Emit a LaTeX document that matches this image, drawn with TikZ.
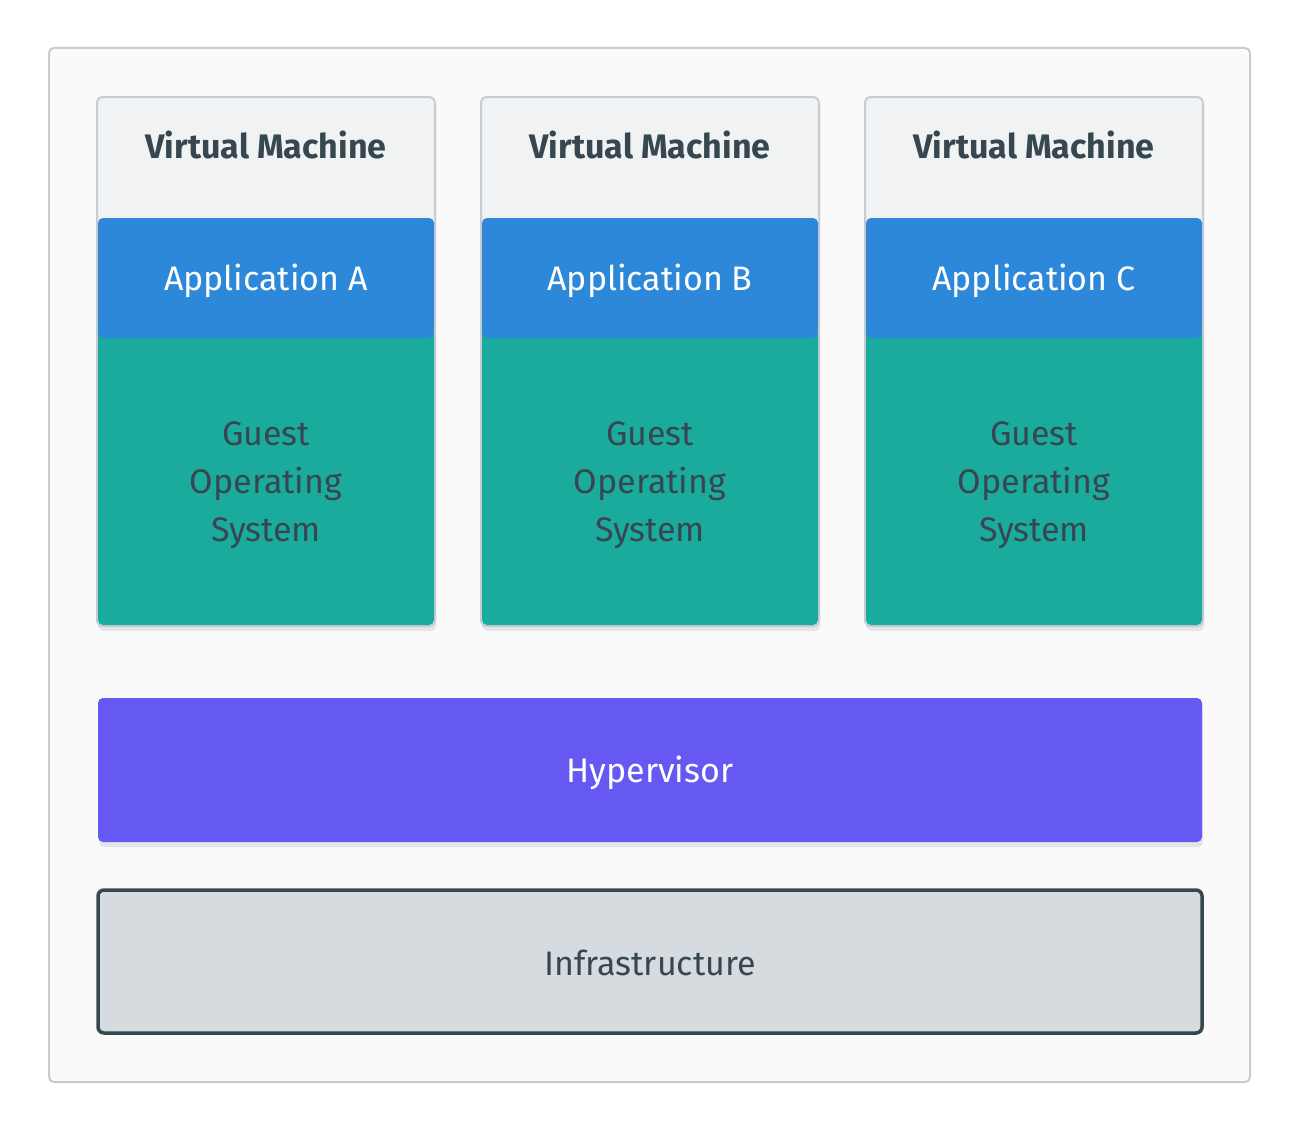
\documentclass[tikz,border=0pt]{standalone}
\usepackage{fontspec}
\setmainfont{Fira Sans}
\definecolor{framebg}{HTML}{FAFAFA}
\definecolor{frameline}{HTML}{C5CCD4}
\definecolor{vmtop}{HTML}{F1F2F4}
\definecolor{appblue}{HTML}{2D88D9}
\definecolor{guestteal}{HTML}{1BAB9D}
\definecolor{hyperv}{HTML}{6659F3}
\definecolor{infrafill}{HTML}{D6DBDF}
\definecolor{darktext}{HTML}{37474F}
\definecolor{shadowc}{HTML}{E2E5E9}
\begin{document}
\begin{tikzpicture}[x=1pt,y=-1pt,
  lbl/.style={font=\fontsize{34}{48}\selectfont, align=center, inner sep=0pt},
  boldlbl/.style={lbl, font=\fontsize{34}{48}\selectfont\bfseries},
  shade/.style={fill=shadowc, rounded corners=6},
]
\useasboundingbox (0,0) rectangle (1300,1132);
\fill[white] (0,0) rectangle (1300,1132);
% outer frame
\draw[frameline, line width=2, fill=framebg, rounded corners=5] (49,48) rectangle (1250,1082);
% virtual machines
\foreach \x/\n/\L in {97/a/A, 481/b/B, 865/c/C}{
  \fill[shade] (\x+1,100) rectangle (\x+339,631);
  \draw[frameline, line width=2, fill=vmtop, rounded corners=6] (\x,97) rectangle (\x+338,626);
  \fill[guestteal, rounded corners=5] (\x+1,330) rectangle (\x+337,625);
  \fill[appblue, rounded corners=5] (\x+1,218) rectangle (\x+337,338);
  \node[boldlbl, text=darktext, anchor=base] (vm\n) at (\x+169,158) {Virtual Machine};
  \node[lbl, text=white, anchor=base] (app\n) at (\x+169,290) {Application \L};
  \node[lbl, text=darktext, text height=25pt, text depth=8pt] (os\n) at (\x+169,533) {Guest\\Operating\\System};
}
% hypervisor
\fill[shade] (99,702) rectangle (1203,847);
\fill[hyperv, rounded corners=5] (98,698) rectangle (1202,842);
\node[lbl, text=white, anchor=base] (hyp) at (650,782) {Hypervisor};
% infrastructure
\draw[darktext, line width=3.5, fill=infrafill, rounded corners=6] (98,890) rectangle (1202,1033);
\node[lbl, text=darktext, anchor=base] (infra) at (650,975) {Infrastructure};
\end{tikzpicture}
\end{document}
